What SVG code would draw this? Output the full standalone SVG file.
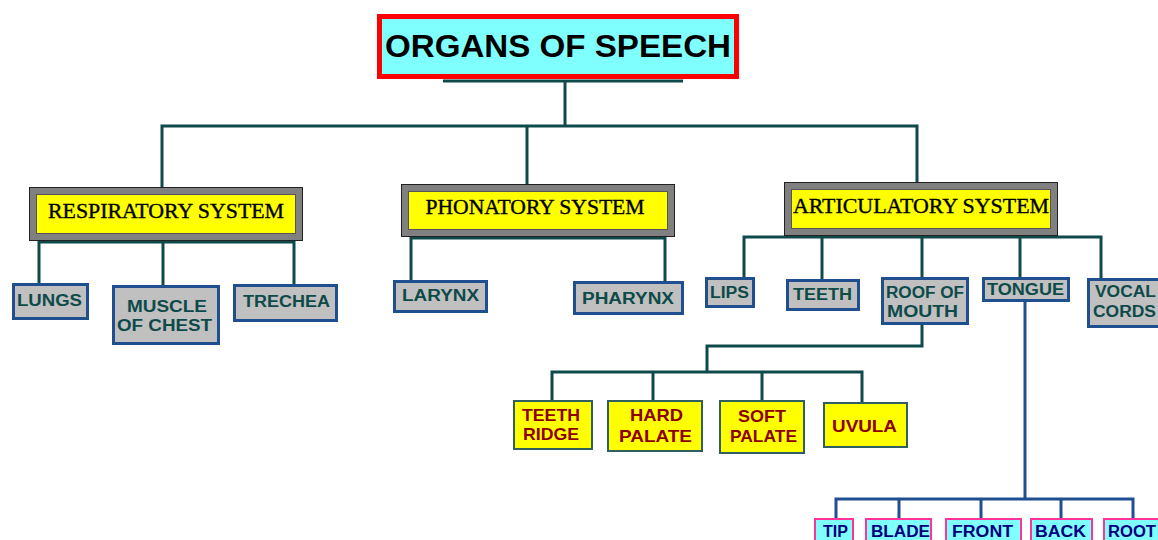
<svg xmlns="http://www.w3.org/2000/svg" width="1158" height="540" viewBox="0 0 1158 540">
<style>
.ln{stroke:#0e4a4a;stroke-width:3;fill:none}
.lb{stroke:#1f4f8f;stroke-width:3;fill:none}
.sysO{fill:#808080;stroke:#222;stroke-width:1}
.sysI{fill:#ffff00;stroke:#555;stroke-width:1}
.sysT{font-family:"Liberation Serif","Times New Roman",serif;font-size:20px;fill:#000;text-anchor:middle;stroke:#000;stroke-width:0.35}
.gb{fill:#c0c0c0;stroke:#1f4f8f;stroke-width:3}
.gt{font-family:"Liberation Sans",Arial,sans-serif;font-weight:bold;font-size:16px;fill:#0e4a4a;text-anchor:middle}
.yb{fill:#ffff00;stroke:#2f5f5f;stroke-width:2}
.yt{font-family:"Liberation Sans",Arial,sans-serif;font-weight:bold;font-size:17px;fill:#8b0000;text-anchor:middle}
.cb{fill:#80ffff;stroke:#ff3399;stroke-width:2}
.ct{font-family:"Liberation Sans",Arial,sans-serif;font-weight:bold;font-size:16px;fill:#000080;text-anchor:middle}
.st{text-anchor:start}
</style>
<rect width="1158" height="540" fill="#fff"/>
<g id="connectors">
<line class="ln" x1="443" y1="81" x2="683" y2="81"/>
<line class="ln" x1="565" y1="80" x2="565" y2="126"/>
<polyline class="ln" points="162,187 162,126 917,126 917,182"/>
<line class="ln" x1="527" y1="126" x2="527" y2="184"/>
<polyline class="ln" points="39,284 39,242 294,242 294,285"/>
<line class="ln" x1="163" y1="242" x2="163" y2="286"/>
<polyline class="ln" points="411,281 411,238 665,238 665,282"/>
<polyline class="ln" points="744,278 744,237 1101,237 1101,278"/>
<line class="ln" x1="822" y1="237" x2="822" y2="280"/>
<line class="ln" x1="922" y1="237" x2="922" y2="278"/>
<line class="ln" x1="1020" y1="237" x2="1020" y2="278"/>
<polyline class="ln" points="922,324 922,346 707,346 707,372"/>
<polyline class="ln" points="552,400 552,372 862,372 862,402"/>
<line class="ln" x1="653" y1="372" x2="653" y2="400"/>
<line class="ln" x1="762" y1="372" x2="762" y2="400"/>
<line class="lb" x1="1025" y1="301" x2="1025" y2="499"/>
<polyline class="lb" points="836,518 836,499 1133,499 1133,518"/>
<line class="lb" x1="899" y1="499" x2="899" y2="518"/>
<line class="lb" x1="981" y1="499" x2="981" y2="518"/>
<line class="lb" x1="1061" y1="499" x2="1061" y2="518"/>
</g>
<g id="organs-of-speech">
<rect x="379.5" y="16.5" width="357" height="60" fill="#80ffff" stroke="#ff0000" stroke-width="5"/>
<text x="558" y="57" font-family="Liberation Sans,Arial,sans-serif" font-weight="bold" font-size="31" fill="#000" text-anchor="middle" textLength="346" lengthAdjust="spacingAndGlyphs">ORGANS OF SPEECH</text>
</g>
<g id="respiratory-system">
<rect class="sysO" x="29.5" y="187.5" width="273" height="53"/>
<rect class="sysI" x="36.5" y="194.5" width="259" height="39"/>
<text class="sysT" x="166" y="218" textLength="236" lengthAdjust="spacingAndGlyphs">RESPIRATORY SYSTEM</text>
</g>
<g id="phonatory-system">
<rect class="sysO" x="401.5" y="184.5" width="273" height="52"/>
<rect class="sysI" x="408.5" y="191.5" width="259" height="38"/>
<text class="sysT" x="535" y="214" textLength="219" lengthAdjust="spacingAndGlyphs">PHONATORY SYSTEM</text>
</g>
<g id="articulatory-system">
<rect class="sysO" x="784.5" y="182.5" width="273" height="53"/>
<rect class="sysI" x="791.5" y="189.5" width="259" height="39"/>
<text class="sysT" x="921" y="213" textLength="256" lengthAdjust="spacingAndGlyphs">ARTICULATORY SYSTEM</text>
</g>
<g id="lungs"><rect class="gb" x="13.5" y="284.5" width="74" height="34"/><text class="gt" x="49.5" y="306" textLength="65" lengthAdjust="spacingAndGlyphs">LUNGS</text></g>
<g id="muscle-of-chest"><rect class="gb" x="113.5" y="286.5" width="105" height="57"/><text class="gt" x="167" y="312" textLength="80" lengthAdjust="spacingAndGlyphs">MUSCLE</text><text class="gt" x="164.5" y="331" textLength="95" lengthAdjust="spacingAndGlyphs">OF CHEST</text></g>
<g id="trechea"><rect class="gb" x="234.5" y="285.5" width="102" height="35"/><text class="gt" x="286.5" y="307" textLength="87" lengthAdjust="spacingAndGlyphs">TRECHEA</text></g>
<g id="larynx"><rect class="gb" x="394.5" y="281.5" width="92" height="30"/><text class="gt" x="440.5" y="301" textLength="77" lengthAdjust="spacingAndGlyphs">LARYNX</text></g>
<g id="pharynx"><rect class="gb" x="574.5" y="282.5" width="108" height="31"/><text class="gt" x="628" y="304" textLength="92" lengthAdjust="spacingAndGlyphs">PHARYNX</text></g>
<g id="lips"><rect class="gb" x="706.5" y="278.5" width="47" height="28"/><text class="gt" x="729.5" y="298" textLength="39" lengthAdjust="spacingAndGlyphs">LIPS</text></g>
<g id="teeth"><rect class="gb" x="787.5" y="280.5" width="71" height="29"/><text class="gt" x="822.5" y="300" textLength="59" lengthAdjust="spacingAndGlyphs">TEETH</text></g>
<g id="roof-of-mouth"><rect class="gb" x="882.5" y="278.5" width="85" height="45"/><text class="gt" x="925" y="298" textLength="78" lengthAdjust="spacingAndGlyphs">ROOF OF</text><text class="gt" x="922.5" y="317" textLength="71" lengthAdjust="spacingAndGlyphs">MOUTH</text></g>
<g id="tongue"><rect class="gb" x="983.5" y="278.5" width="85" height="22"/><text class="gt" x="1025.5" y="295" textLength="77" lengthAdjust="spacingAndGlyphs">TONGUE</text></g>
<g id="vocal-cords"><rect class="gb" x="1088.5" y="279.5" width="80" height="47"/><text class="gt st" x="1095" y="297" textLength="61" lengthAdjust="spacingAndGlyphs">VOCAL</text><text class="gt st" x="1093" y="317" textLength="63" lengthAdjust="spacingAndGlyphs">CORDS</text></g>
<g id="teeth-ridge"><rect class="yb" x="514" y="401" width="78" height="48"/><text class="yt" x="551" y="421" textLength="58" lengthAdjust="spacingAndGlyphs">TEETH</text><text class="yt" x="551" y="440" textLength="56" lengthAdjust="spacingAndGlyphs">RIDGE</text></g>
<g id="hard-palate"><rect class="yb" x="608" y="401" width="94" height="50"/><text class="yt" x="656.5" y="421" textLength="53" lengthAdjust="spacingAndGlyphs">HARD</text><text class="yt" x="655.5" y="442" textLength="73" lengthAdjust="spacingAndGlyphs">PALATE</text></g>
<g id="soft-palate"><rect class="yb" x="720" y="401" width="84" height="52"/><text class="yt" x="762" y="422" textLength="48" lengthAdjust="spacingAndGlyphs">SOFT</text><text class="yt" x="763.5" y="442" textLength="67" lengthAdjust="spacingAndGlyphs">PALATE</text></g>
<g id="uvula"><rect class="yb" x="824" y="403" width="83" height="44"/><text class="yt" x="864.5" y="432" textLength="65" lengthAdjust="spacingAndGlyphs">UVULA</text></g>
<g id="tip"><rect class="cb" x="815" y="519" width="38" height="30"/><text class="ct" x="835.5" y="537" textLength="25" lengthAdjust="spacingAndGlyphs">TIP</text></g>
<g id="blade"><rect class="cb" x="866" y="519" width="65" height="30"/><text class="ct" x="900.5" y="537" textLength="59" lengthAdjust="spacingAndGlyphs">BLADE</text></g>
<g id="front"><rect class="cb" x="946" y="519" width="75" height="30"/><text class="ct" x="982.5" y="537" textLength="61" lengthAdjust="spacingAndGlyphs">FRONT</text></g>
<g id="back"><rect class="cb" x="1031" y="519" width="61" height="30"/><text class="ct" x="1060.5" y="537" textLength="51" lengthAdjust="spacingAndGlyphs">BACK</text></g>
<g id="root"><rect class="cb" x="1104" y="519" width="70" height="30"/><text class="ct st" x="1108" y="537" textLength="48" lengthAdjust="spacingAndGlyphs">ROOT</text></g>
</svg>
